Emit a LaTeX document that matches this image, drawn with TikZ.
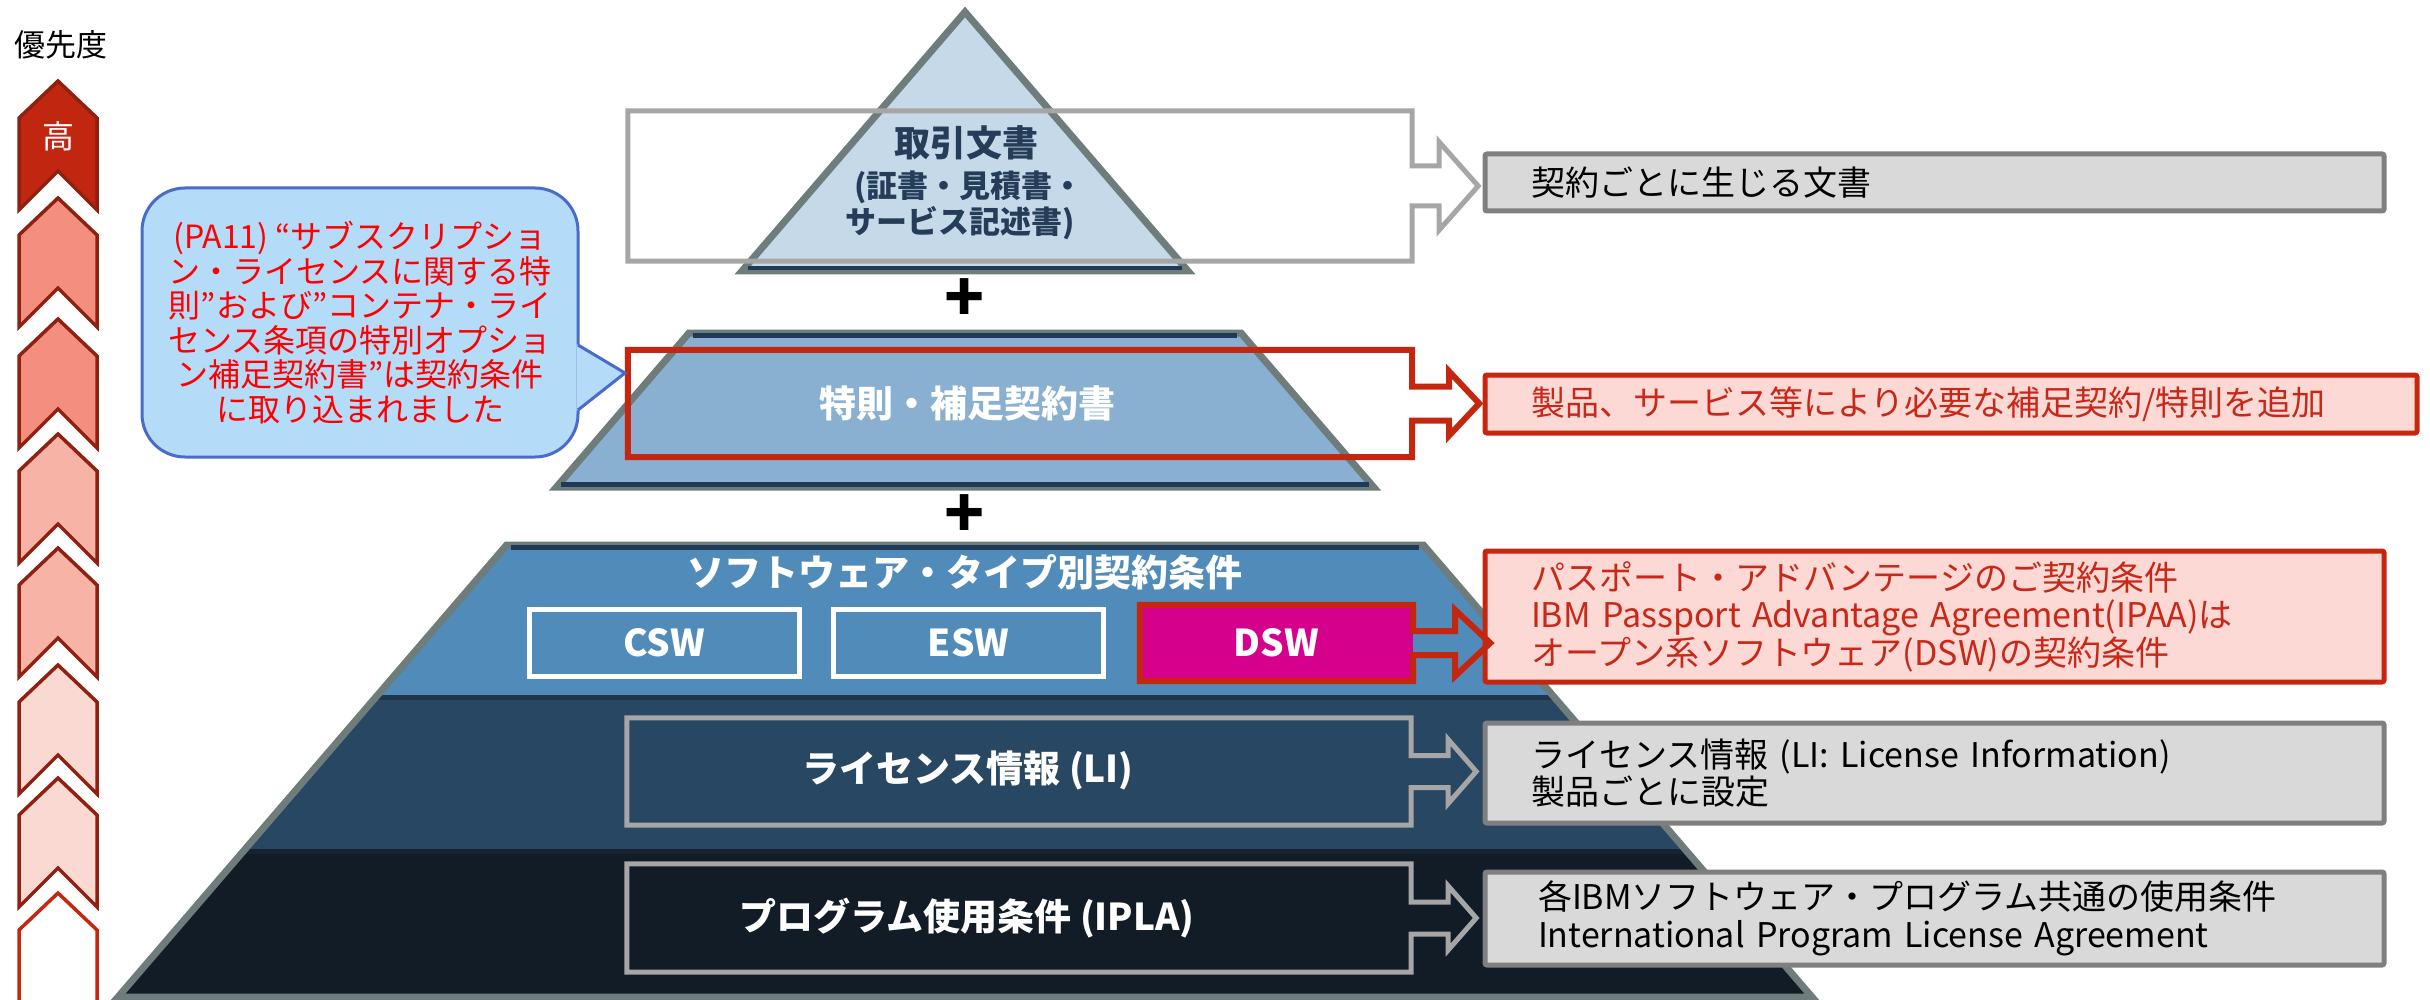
\documentclass[tikz,border=0pt]{standalone}
\usepackage{fontspec}
\setmainfont{Noto Sans CJK JP}
\usetikzlibrary{calc}
\definecolor{chevline}{HTML}{8E2111}
\definecolor{chevA}{HTML}{C12610}
\definecolor{chevB}{HTML}{F48F7F}
\definecolor{chevC}{HTML}{F8B3A7}
\definecolor{chevD}{HTML}{FBD9D3}
\definecolor{accred}{HTML}{C4260F}
\definecolor{redtext}{HTML}{C8281A}
\definecolor{pinkfill}{HTML}{FCD9D4}
\definecolor{grayfill}{HTML}{D9D9D9}
\definecolor{grayline}{HTML}{7F7F7F}
\definecolor{lightgray}{HTML}{A6A6A6}
\definecolor{trifill}{HTML}{C5D9E8}
\definecolor{trapfill}{HTML}{89B0D0}
\definecolor{bandA}{HTML}{508BBA}
\definecolor{bandB}{HTML}{284762}
\definecolor{bandC}{HTML}{111C26}
\definecolor{pyrgray}{HTML}{6F7C7C}
\definecolor{navyline}{HTML}{1E3A56}
\definecolor{sepA}{HTML}{1F364D}
\definecolor{sepB}{HTML}{17242F}
\definecolor{navytext}{HTML}{253D58}
\definecolor{magentafill}{HTML}{D5008C}
\definecolor{bubblefill}{HTML}{B4DBF8}
\definecolor{bubbleline}{HTML}{4A6BC9}
\definecolor{brightred}{HTML}{FF0000}

\newcommand\prchev[2]{\filldraw[chev, fill=#2] (19,#1+37) -- (58,#1) -- (97,#1+37) -- (97,#1+129) -- (58,#1+90) -- (19,#1+129) -- cycle;}
% #1 style, #2 node, #3 shaft half height, #4 head half height, #5 shaft length, #6 head length
\newcommand\boxarrow[6]{\draw[#1] (#2.north west) -- (#2.north east) -- ($(#2.east)+(0,-#3)$) -- ($(#2.east)+(#5,-#3)$) -- ($(#2.east)+(#5,-#4)$) -- ($(#2.east)+(#5+#6,0)$) -- ($(#2.east)+(#5,#4)$) -- ($(#2.east)+(#5,#3)$) -- ($(#2.east)+(0,#3)$) -- (#2.south east) -- (#2.south west) -- cycle;}

\begin{document}
\begin{tikzpicture}[x=1pt,y=-1pt,
  chev/.style={draw=chevline, line width=3.5pt, line join=miter},
  pyr/.style={draw=pyrgray, line width=7pt, line join=miter},
  navyedge/.style={draw=navyline, line width=5pt},
  wtext/.style={text=white, font=\fontsize{37}{40}\selectfont\bfseries, inner sep=0pt},
  ntext/.style={text=navytext, font=\fontsize{31}{36}\selectfont\bfseries, inner sep=0pt},
  plus/.style={text=black, font=\fontsize{66}{66}\selectfont\bfseries, inner sep=0pt},
  pbox/.style={inner sep=0pt, minimum width=784pt},
  swbox/.style={draw=white, line width=5pt, minimum width=270pt, minimum height=67pt, inner sep=0pt, text=white, font=\fontsize{37}{40}\selectfont\bfseries},
  dswbox/.style={fill=magentafill, minimum width=273pt, minimum height=76pt, inner sep=0pt, text=white, font=\fontsize{37}{40}\selectfont\bfseries},
  grayarrow/.style={draw=lightgray, line width=5pt, line join=miter},
  redarrow/.style={draw=accred, line width=6pt, line join=miter},
  rbox/.style={fill=grayfill, draw=grayline, line width=5pt, rounded corners=2pt, inner xsep=46pt, inner ysep=0pt, text width=807pt, align=left, text=black, font=\fontsize{34}{37.5}\selectfont},
  rboxred/.style={rbox, fill=pinkfill, draw=accred, text=redtext},
  bubble/.style={fill=bubblefill, draw=bubbleline, line width=3pt, rounded corners=43pt, minimum width=436pt, minimum height=269pt, inner sep=0pt, align=center, text=brightred, font=\fontsize{32}{34.5}\selectfont}
]
\useasboundingbox (0,0) rectangle (2430,1000);

% priority column
\node[inner sep=0pt, font=\fontsize{31}{34}\selectfont] (prio) at (61,45) {優先度};
\prchev{81}{chevA}
\prchev{198}{chevB}
\prchev{319}{chevB}
\prchev{434}{chevC}
\prchev{548}{chevC}
\prchev{665}{chevD}
\prchev{778}{chevD}
\filldraw[draw=accred, line width=3.5pt, fill=white] (19,893+37) -- (58,893) -- (97,893+37) -- (97,1040) -- (19,1040) -- cycle;
\node[inner sep=0pt, text=white, font=\fontsize{32}{34}\selectfont] (hi) at (58,136) {高};

% pyramid: top triangle
\filldraw[pyr, fill=trifill] (965,12) -- (1188,271) -- (742,271) -- cycle;
\draw[navyedge, line width=4pt] (748,268) -- (1182,268);
% second layer
\filldraw[pyr, fill=trapfill] (689,333) -- (1241,333) -- (1373.5,487) -- (556.5,487) -- cycle;
\draw[navyedge] (693,335) -- (1237,335);
\draw[navyedge] (561,484) -- (1369,484);
% big trapezoid bands
\fill[bandA] (506.6,545) -- (1423.4,545) -- (1554.1,697) -- (375.9,697) -- cycle;
\fill[bandB] (375.9,697) -- (1554.1,697) -- (1686.5,851) -- (243.5,851) -- cycle;
\fill[bandC] (243.5,851) -- (1686.5,851) -- (1812,997) -- (118,997) -- cycle;
\begin{scope}
  \clip (506.6,545) -- (1423.4,545) -- (1812,997) -- (118,997) -- cycle;
  \draw[draw=sepA, line width=5pt] (360,697) -- (1570,697);
  \draw[draw=sepB, line width=5pt] (230,851) -- (1700,851);
\end{scope}
\draw[pyr] (506.6,545) -- (1423.4,545) -- (1812,997) -- (118,997) -- cycle;
\draw[navyedge] (511,547) -- (1419,547);

% pyramid texts
\node[ntext, font=\fontsize{36}{40}\selectfont\bfseries] (t1a) at (966,143) {取引文書};
\node[ntext] (t1b) at (969,187) {(証書・見積書・};
\node[ntext] (t1c) at (960,223) {サービス記述書)};
\node[wtext] (t2) at (967,403) {特則・補足契約書};
\node[wtext] (t3) at (965,572) {ソフトウェア・タイプ別契約条件};
\node[wtext] (t4) at (968,770) {ライセンス情報 (LI)};
\node[wtext] (t5) at (967,918) {プログラム使用条件 (IPLA)};
\node[plus] (p1) at (965,300) {+};
\node[plus] (p2) at (965,516) {+};

% software type boxes
\node[swbox] (csw) at (664,642.5) {CSW};
\node[swbox] (esw) at (968.5,642.5) {ESW};
\node[dswbox] (dsw) at (1276.5,643) {DSW};

% outline boxes inside pyramid
\node[pbox, minimum height=150pt] (b1) at (1020,186) {};
\node[pbox, minimum height=107pt] (b2) at (1020,403.5) {};
\node[pbox, minimum height=107pt] (b4) at (1019,771.5) {};
\node[pbox, minimum height=108pt] (b5) at (1019,918) {};

% right description boxes
\node[rbox, minimum height=57pt] (r1) at (1934.5,182.5) {契約ごとに生じる文書};
\node[rboxred, minimum height=58pt, text width=840pt] (r2) at (1951,404) {製品、サービス等により必要な補足契約/特則を追加};
\node[rboxred, minimum height=131pt] (r3) at (1934.5,616.5) {パスポート・アドバンテージのご契約条件\\IBM Passport Advantage Agreement(IPAA)は\\オープン系ソフトウェア(DSW)の契約条件};
\node[rbox, minimum height=100pt] (r4) at (1934.5,773) {ライセンス情報 (LI: License Information)\\製品ごとに設定};
\node[rbox, minimum height=93pt, inner xsep=53pt, text width=793pt] (r5) at (1934.5,918.5) {各IBMソフトウェア・プログラム共通の使用条件\\International Program License Agreement};

% block arrows joined to the boxes
\boxarrow{grayarrow}{b1}{20}{44}{27}{39}
\boxarrow{redarrow}{b2}{17}{32}{37}{30}
\boxarrow{redarrow}{dsw}{12}{33}{42}{35}
\boxarrow{grayarrow}{b4}{16}{32}{37}{28}
\boxarrow{grayarrow}{b5}{16}{32}{37}{28}

% callout
\node[bubble] (cb) at (360,322.5) {(PA11) “サブスクリプショ\\ン・ライセンスに関する特\\則”および”コンテナ・ライ\\センス条項の特別オプショ\\ン補足契約書”は契約条件\\に取り込まれました};
\coordinate (tip) at (625,373);
\fill[bubblefill] (576.5,344) -- (tip) -- (576.5,411) -- cycle;
\draw[draw=bubbleline, line width=3pt, line join=miter] (578,345) -- (tip) -- (578,410);
\end{tikzpicture}
\end{document}
